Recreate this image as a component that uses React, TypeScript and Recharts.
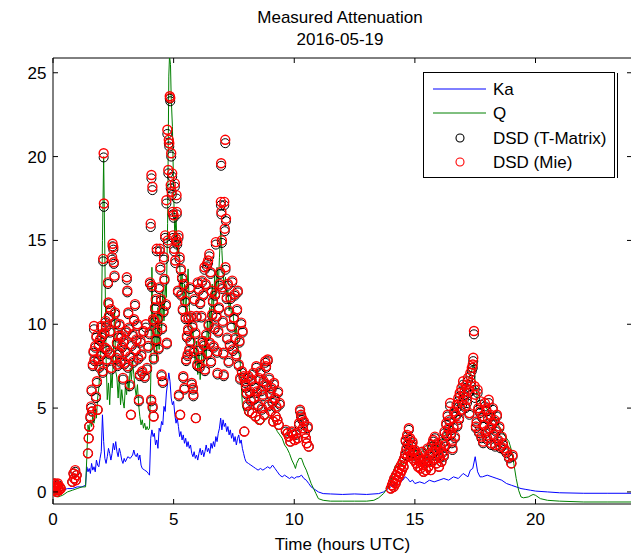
import React from "react";
import {
  ComposedChart,
  Line,
  Scatter,
  XAxis,
  YAxis,
  ReferenceLine,
} from "recharts";

// Ka band path attenuation (dB) vs hour
const kaHours = [
  0.0, 0.2, 0.4, 0.6, 0.8, 1.0, 1.2, 1.35, 1.4, 1.45,
  1.5, 1.55, 1.6, 1.65, 1.7, 1.75, 1.8, 1.85, 1.9, 1.95,
  2.0, 2.05, 2.1, 2.15, 2.2, 2.25, 2.3, 2.35, 2.4, 2.45,
  2.5, 2.55, 2.6, 2.65, 2.7, 2.75, 2.8, 2.85, 2.9, 2.95,
  3.0, 3.1, 3.2, 3.3, 3.35, 3.4, 3.45, 3.5, 3.55, 3.6,
  3.65, 3.7, 3.8, 3.9, 3.95, 4.0, 4.05, 4.1, 4.15, 4.2,
  4.25, 4.3, 4.35, 4.4, 4.45, 4.5, 4.55, 4.6, 4.65, 4.7,
  4.75, 4.8, 4.85, 4.9, 4.95, 5.0, 5.05, 5.1, 5.15, 5.2,
  5.25, 5.3, 5.35, 5.4, 5.45, 5.5, 5.55, 5.6, 5.65, 5.7,
  5.75, 5.8, 5.85, 5.9, 5.95, 6.0, 6.05, 6.1, 6.15, 6.2,
  6.25, 6.3, 6.35, 6.4, 6.45, 6.5, 6.55, 6.6, 6.65, 6.7,
  6.75, 6.8, 6.85, 6.9, 6.95, 7.0, 7.05, 7.1, 7.15, 7.2,
  7.25, 7.3, 7.35, 7.4, 7.45, 7.5, 7.55, 7.6, 7.65, 7.7,
  7.75, 7.8, 7.85, 7.9, 7.95, 8.0, 8.1, 8.2, 8.3, 8.4,
  8.5, 8.6, 8.7, 8.8, 8.9, 9.0, 9.1, 9.2, 9.3, 9.4,
  9.5, 9.6, 9.7, 9.8, 9.9, 10.0, 10.1, 10.2, 10.3, 10.4,
  10.5, 10.6, 10.7, 10.8, 10.9, 11.0, 11.2, 11.5, 12.0, 12.5,
  13.0, 13.5, 13.7, 13.9, 14.1, 14.3, 14.5, 14.6, 14.7, 14.8,
  14.9, 15.0, 15.2, 15.4, 15.6, 15.8, 16.0, 16.2, 16.4, 16.6,
  16.8, 17.0, 17.2, 17.3, 17.4, 17.5, 17.6, 17.7, 17.8, 18.0,
  18.2, 18.4, 18.6, 18.8, 19.0, 19.2, 19.4, 19.6, 19.8, 20.0,
  20.5, 21.0, 22.0, 23.0, 24.0,
];
const kaAtten = [
  0.1, 0.0, 0.1, 0.2, 0.2, 0.3, 0.3, 0.4, 1.5, 1.2,
  1.4, 1.1, 1.7, 1.3, 1.5, 1.2, 1.9, 1.6, 1.5, 2.0,
  2.4, 4.6, 3.0, 2.0, 1.7, 2.1, 2.6, 2.3, 1.9, 2.3,
  2.9, 2.5, 3.0, 2.4, 2.1, 2.6, 2.3, 1.9, 1.7, 2.0,
  1.8, 2.1, 2.0, 2.2, 2.5, 2.2, 2.1, 2.3, 1.9, 2.2,
  1.6, 1.4, 1.3, 1.2, 1.1, 1.0, 3.2, 3.7, 3.3, 3.5,
  2.8, 3.1, 2.6, 3.8, 3.6, 4.2, 4.0, 5.1, 4.8, 5.9,
  6.5, 7.1, 6.6, 5.6, 5.2, 5.4, 4.6, 4.1, 4.4, 3.9,
  3.3, 3.6, 3.1, 3.4, 2.9, 3.2, 2.7, 3.0, 2.6, 2.8,
  2.3, 2.1, 2.4, 2.0, 2.2, 1.9, 2.3, 2.6, 2.2, 2.5,
  2.1, 2.4, 2.8, 2.4, 2.6, 2.3, 2.9, 2.6, 3.0, 2.7,
  3.3, 3.0, 3.5, 3.8, 4.4, 3.7, 4.3, 3.9, 4.1, 3.6,
  3.9, 3.4, 3.7, 3.2, 3.5, 3.0, 3.3, 2.8, 3.2, 3.4,
  2.9, 3.1, 2.6, 2.3, 2.0, 1.8, 1.7, 1.6, 1.5, 1.4,
  1.3, 1.4, 1.3, 1.4, 1.5, 1.4, 1.6, 1.4, 1.2, 1.0,
  0.9, 1.0, 0.9, 0.8, 0.9, 0.8, 0.9, 0.9, 1.0, 0.8,
  0.7, 0.5, 0.3, 0.2, 0.1, 0.0, -0.1, -0.12, -0.15, -0.12,
  -0.15, -0.1, 0.0, 0.2, 0.4, 0.6, 0.7, 0.9, 0.8, 0.6,
  0.7, 0.5, 0.6, 0.5, 0.7, 0.6, 0.7, 0.8, 0.7, 0.9,
  0.8, 1.1, 0.9, 1.3, 1.4, 2.1, 1.2, 0.9, 0.9, 1.0,
  0.9, 0.8, 0.7, 0.5, 0.4, 0.3, 0.2, 0.15, 0.1, 0.05,
  0.0, -0.05, -0.08, -0.08, -0.08,
];

// Q band path attenuation (dB)
const qHours = [
  0.0, 0.1, 0.2, 0.4, 0.6, 0.8, 1.0, 1.2, 1.35, 1.4,
  1.45, 1.5, 1.55, 1.6, 1.65, 1.7, 1.75, 1.8, 1.85, 1.9,
  1.95, 2.0, 2.05, 2.1, 2.15, 2.2, 2.25, 2.3, 2.35, 2.4,
  2.45, 2.5, 2.55, 2.6, 2.65, 2.7, 2.75, 2.8, 2.85, 2.9,
  2.95, 3.0, 3.05, 3.1, 3.15, 3.2, 3.25, 3.3, 3.35, 3.4,
  3.45, 3.5, 3.55, 3.6, 3.65, 3.7, 3.75, 3.8, 3.85, 3.9,
  3.95, 4.0, 4.05, 4.1, 4.15, 4.2, 4.25, 4.3, 4.35, 4.4,
  4.45, 4.5, 4.55, 4.6, 4.65, 4.7, 4.75, 4.8, 4.83, 4.87,
  4.9, 4.95, 5.0, 5.05, 5.1, 5.15, 5.2, 5.25, 5.3, 5.35,
  5.4, 5.45, 5.5, 5.55, 5.6, 5.65, 5.7, 5.75, 5.8, 5.85,
  5.9, 5.95, 6.0, 6.05, 6.1, 6.15, 6.2, 6.25, 6.3, 6.35,
  6.4, 6.45, 6.5, 6.55, 6.6, 6.65, 6.7, 6.75, 6.8, 6.85,
  6.9, 6.95, 7.0, 7.05, 7.1, 7.15, 7.2, 7.25, 7.3, 7.35,
  7.4, 7.45, 7.5, 7.55, 7.6, 7.65, 7.7, 7.75, 7.8, 7.85,
  7.9, 8.0, 8.1, 8.2, 8.3, 8.4, 8.5, 8.6, 8.7, 8.8,
  8.9, 9.0, 9.1, 9.2, 9.3, 9.4, 9.5, 9.6, 9.7, 9.8,
  9.9, 10.0, 10.05, 10.1, 10.2, 10.3, 10.4, 10.5, 10.6, 10.7,
  10.8, 10.9, 11.0, 11.2, 11.5, 12.0, 12.5, 13.0, 13.3, 13.5,
  13.7, 13.9, 14.0, 14.1, 14.2, 14.3, 14.4, 14.5, 14.6, 14.7,
  14.8, 14.9, 15.0, 15.1, 15.2, 15.3, 15.4, 15.5, 15.6, 15.7,
  15.8, 15.9, 16.0, 16.1, 16.2, 16.3, 16.4, 16.5, 16.6, 16.7,
  16.8, 16.9, 17.0, 17.1, 17.2, 17.3, 17.4, 17.45, 17.5, 17.6,
  17.7, 17.8, 17.9, 18.0, 18.1, 18.2, 18.3, 18.4, 18.5, 18.6,
  18.7, 18.8, 18.9, 19.0, 19.1, 19.2, 19.3, 19.4, 19.5, 19.7,
  19.9, 20.0, 20.2, 20.5, 21.0, 22.0, 23.0, 24.0,
];
const qAtten = [
  0.0, -0.2, -0.3, -0.2, 0.0, 0.1, 0.2, 0.3, 0.3, 2.0,
  4.0, 3.6, 4.3, 3.9, 4.6, 4.1, 5.0, 4.4, 5.6, 6.2,
  7.5, 9.0, 15.0, 20.0, 14.0, 8.0, 5.5, 6.5, 5.2, 7.0,
  6.2, 8.0, 11.0, 7.2, 6.8, 5.6, 6.9, 5.2, 6.1, 5.4,
  5.0, 6.3, 5.8, 6.9, 6.0, 7.4, 6.7, 7.8, 7.0, 6.2,
  5.7, 6.4, 5.2, 4.5, 4.0, 4.3, 3.8, 4.1, 3.7, 3.9,
  3.7, 3.8, 6.5, 13.4, 9.0, 8.3, 10.4, 7.8, 11.0, 8.5,
  11.8, 9.6, 12.0, 10.2, 12.3, 11.6, 16.0, 24.8, 26.0, 25.5,
  23.5, 21.8, 18.0, 15.0, 16.5, 14.2, 15.0, 13.6, 12.0, 13.0,
  11.2, 12.4, 10.6, 12.0, 13.3, 11.0, 10.3, 9.2, 9.8, 8.4,
  7.6, 9.0, 7.0, 8.2, 6.7, 7.8, 8.8, 7.4, 9.3, 8.0,
  10.2, 9.0, 11.0, 9.6, 12.4, 10.8, 12.9, 11.5, 13.4, 12.2,
  14.0, 15.7, 14.4, 13.0, 12.2, 12.8, 11.6, 12.0, 10.8, 11.3,
  10.5, 10.9, 10.0, 9.4, 9.8, 8.9, 8.3, 8.0, 6.5, 5.2,
  4.9, 4.6, 4.5, 4.4, 4.3, 4.2, 4.1, 4.0, 4.1, 4.3,
  4.5, 4.4, 4.3, 3.9, 3.6, 3.4, 3.2, 2.8, 2.6, 2.3,
  1.9, 1.6, 1.4, 1.7, 2.0, 2.0, 1.6, 1.3, 0.9, 0.5,
  0.2, -0.1, -0.4, -0.5, -0.55, -0.55, -0.55, -0.55, -0.5, -0.35,
  -0.1, 0.3, 0.6, 1.2, 1.6, 1.5, 1.8, 1.6, 2.0, 1.8,
  2.2, 2.0, 2.5, 2.3, 2.2, 2.4, 2.6, 2.5, 2.8, 3.0,
  3.1, 2.8, 2.6, 3.0, 3.3, 3.5, 3.6, 3.9, 4.1, 4.4,
  5.0, 5.5, 5.9, 6.3, 6.6, 7.0, 7.4, 7.7, 6.5, 5.5,
  5.3, 5.0, 5.2, 4.9, 4.8, 4.6, 4.5, 4.2, 3.9, 3.7,
  3.4, 3.2, 3.0, 2.5, 1.7, 0.8, 0.1, -0.3, -0.35, -0.3,
  -0.15, -0.2, -0.4, -0.5, -0.55, -0.6, -0.6, -0.6,
];

// DSD-derived attenuation, same sample times for both scattering models
const dsdHours = [
  0.02, 0.05, 0.07, 0.10, 0.12, 0.15, 0.17, 0.20, 0.22, 0.25,
  0.28, 0.32, 0.80, 0.85, 0.88, 0.92, 0.95, 0.98,
  1.45, 1.48, 1.50, 1.55, 1.58, 1.60, 1.62, 1.65, 1.68, 1.70,
  1.72, 1.75, 1.78, 1.80, 1.82, 1.85, 1.88, 1.90, 1.92, 1.95,
  1.98, 2.00, 2.03, 2.06, 2.08, 2.10, 2.11, 2.13, 2.16, 2.18,
  2.20, 2.23, 2.25, 2.28, 2.30, 2.32, 2.35, 2.37, 2.40, 2.42,
  2.45, 2.47, 2.50, 2.52, 2.55, 2.57, 2.60, 2.62, 2.65, 2.68,
  2.70, 2.73, 2.76, 2.80, 2.83, 2.86, 2.90, 2.93, 2.96, 3.00,
  3.03, 3.06, 3.08, 3.10, 3.12, 3.15, 3.18, 3.20, 3.23, 3.26,
  3.30, 3.33, 3.36, 3.40, 3.43, 3.46, 3.50, 3.53, 3.56, 3.60,
  3.63, 3.66, 3.70, 3.75, 3.80, 3.85, 3.90, 3.95,
  4.00, 4.02, 4.05, 4.07, 4.08, 4.10, 4.12, 4.13, 4.15, 4.17,
  4.18, 4.20, 4.23, 4.26, 4.28, 4.30, 4.32, 4.35, 4.38, 4.40,
  4.43, 4.45, 4.48, 4.50, 4.52, 4.55, 4.58, 4.60, 4.62, 4.65,
  4.68, 4.70, 4.72, 4.74, 4.76, 4.78, 4.80, 4.82, 4.84, 4.86,
  4.88, 4.90, 4.92, 4.94, 4.96, 4.98, 5.00, 5.02, 5.05, 5.07,
  5.10, 5.12, 5.13, 5.15, 5.18, 5.20, 5.22, 5.25, 5.27, 5.30,
  5.32, 5.35, 5.38, 5.40, 5.42, 5.45, 5.48, 5.50, 5.52, 5.55,
  5.58, 5.60, 5.62, 5.65, 5.68, 5.70, 5.72, 5.75, 5.78, 5.80,
  5.82, 5.84, 5.86, 5.90, 5.92, 5.95, 5.98, 6.00, 6.03, 6.05,
  6.08, 6.10, 6.13, 6.15, 6.18, 6.20, 6.23, 6.25, 6.28, 6.30,
  6.33, 6.35, 6.38, 6.40, 6.43, 6.45, 6.48, 6.50, 6.53, 6.55,
  6.58, 6.60, 6.63, 6.66, 6.70, 6.72, 6.75, 6.78, 6.80, 6.82,
  6.85, 6.88, 6.90, 6.93, 6.96, 6.97, 6.98, 7.00, 7.02, 7.04,
  7.06, 7.08, 7.10, 7.12, 7.14, 7.15, 7.17, 7.20, 7.22, 7.25,
  7.28, 7.30, 7.33, 7.36, 7.40, 7.43, 7.46, 7.50, 7.53, 7.56,
  7.60, 7.63, 7.66, 7.70, 7.73, 7.76, 7.80, 7.83, 7.86, 7.90,
  7.93, 7.96,
  8.00, 8.03, 8.06, 8.10, 8.13, 8.16, 8.20, 8.23, 8.26, 8.30,
  8.33, 8.36, 8.40, 8.43, 8.46, 8.50, 8.53, 8.56, 8.60, 8.63,
  8.66, 8.70, 8.73, 8.76, 8.80, 8.83, 8.86, 8.90, 8.93, 8.96,
  9.00, 9.03, 9.06, 9.10, 9.13, 9.16, 9.20, 9.23, 9.26, 9.30,
  9.33, 9.36, 9.40,
  9.65, 9.72, 9.78, 9.84, 9.90, 9.96, 10.02, 10.08, 10.14, 10.20,
  10.24, 10.28, 10.32, 10.36, 10.40, 10.44, 10.48, 10.52, 10.56, 10.60,
  14.00, 14.05, 14.10, 14.12, 14.15, 14.20, 14.22, 14.25, 14.30, 14.33,
  14.36, 14.40, 14.43, 14.46, 14.50, 14.53, 14.56, 14.60, 14.62, 14.65,
  14.68, 14.70, 14.72, 14.75, 14.78, 14.80, 14.83, 14.86, 14.90, 14.93,
  14.96, 15.00, 15.03, 15.06, 15.10, 15.13, 15.16, 15.20, 15.23, 15.26,
  15.30, 15.33, 15.36, 15.40, 15.43, 15.46, 15.50, 15.53, 15.56, 15.60,
  15.63, 15.66, 15.70, 15.73, 15.76, 15.80, 15.83, 15.86, 15.90, 15.93,
  15.96, 16.00, 16.03, 16.06, 16.10, 16.13, 16.16, 16.20, 16.23, 16.26,
  16.30, 16.33, 16.36, 16.40, 16.43, 16.46, 16.50, 16.53, 16.56, 16.60,
  16.63, 16.66, 16.70, 16.73, 16.76, 16.80, 16.83, 16.86, 16.90, 16.93,
  16.96, 17.00, 17.03, 17.06, 17.10, 17.13, 17.16, 17.20, 17.23, 17.26,
  17.30, 17.33, 17.36, 17.40, 17.42, 17.45, 17.48, 17.50, 17.53, 17.56,
  17.60, 17.63, 17.66, 17.70, 17.73, 17.76, 17.80, 17.83, 17.86, 17.90,
  17.93, 17.96, 18.00, 18.03, 18.06, 18.10, 18.13, 18.16, 18.20, 18.23,
  18.26, 18.30, 18.33, 18.36, 18.40, 18.45, 18.50, 18.55, 18.60, 18.65,
  18.70, 18.80, 18.90, 19.00, 19.05,
];
const dsdMie = [
  0.3, 0.1, 0.5, 0.2, 0.4, 0.0, 0.3, 0.5, 0.2, 0.1,
  0.3, 0.2, 0.6, 1.1, 0.8, 1.3, 0.7, 1.0,
  2.3, 3.2, 3.9, 4.5, 5.1, 6.1, 4.8, 7.6, 8.4, 9.9,
  7.9, 8.7, 5.7, 9.3, 6.6, 4.9, 7.9, 8.8, 7.5, 9.1,
  8.2, 9.9, 9.3, 7.2, 13.9, 20.2, 17.2, 9.5, 8.6, 10.2,
  9.9, 7.9, 8.5, 12.5, 11.3, 10.5, 8.3, 9.6, 10.9, 7.4,
  14.0, 14.8, 14.6, 13.7, 12.9, 10.7, 10.1, 8.0, 8.9, 7.6,
  9.3, 8.3, 10.0, 7.8, 9.3, 8.7, 6.8, 9.0, 7.7, 8.4,
  9.6, 12.8, 12.0, 7.5, 10.7, 9.8, 6.4, 8.1, 4.6, 8.8,
  9.4, 7.8, 10.3, 11.2, 8.5, 9.1, 10.0, 8.0, 5.5, 7.0,
  9.0, 8.2, 7.2, 9.6, 6.9, 10.0, 7.4, 8.7,
  9.5, 12.5, 16.0, 5.5, 18.9, 12.3, 18.2, 5.1, 10.3, 4.5,
  8.0, 10.2, 11.0, 11.5, 9.1, 14.5, 9.6, 10.4, 8.6, 12.2,
  14.5, 13.4, 11.5, 7.0, 9.8, 6.6, 10.8, 14.0, 12.7, 15.3,
  11.2, 17.4, 8.9, 21.6, 15.0, 19.2, 21.0, 20.8, 23.6, 23.5,
  18.3, 20.2, 17.9, 19.0, 16.7, 15.3, 16.5, 14.5, 18.4, 13.8,
  15.1, 17.7, 16.7, 14.9, 12.0, 15.3, 5.8, 14.0, 4.6, 13.3,
  11.8, 12.8, 10.9, 6.9, 12.4, 6.2, 11.4, 10.4, 7.9, 9.3,
  8.2, 9.7, 10.4, 8.5, 12.2, 9.0, 10.5, 6.5, 9.9, 6.2,
  5.8, 8.4, 11.5, 9.5, 4.4, 10.5, 7.6, 12.5, 8.5, 12.1,
  7.5, 11.3, 8.1, 10.5, 12.6, 9.0, 11.8, 8.8, 13.4, 7.3,
  12.4, 9.4, 13.6, 8.3, 13.8, 10.0, 14.2, 8.9, 13.1, 7.8,
  12.0, 10.6, 11.4, 8.7, 9.8, 11.8, 14.9, 10.5, 8.4, 7.1,
  9.6, 11.0, 12.4, 13.1, 17.3, 19.6, 16.7, 15.0, 12.2, 10.2,
  8.3, 7.0, 17.3, 15.7, 21.0, 13.4, 16.3, 11.6, 9.2, 12.4,
  7.8, 10.8, 8.8, 11.6, 9.9, 12.6, 8.5, 10.4, 11.8, 9.2,
  8.2, 10.9, 12.0, 7.6, 9.0, 6.8, 10.1, 7.2, 9.6, 6.9,
  3.6, 6.6,
  6.3, 5.9, 5.2, 6.9, 4.8, 6.0, 5.5, 6.7, 4.7, 7.1,
  5.6, 6.3, 4.5, 7.5, 6.0, 5.2, 6.8, 4.3, 7.2, 6.1,
  5.0, 5.8, 6.6, 4.6, 7.8, 7.5, 6.4, 7.9, 5.2, 6.8,
  5.9, 4.8, 6.2, 5.4, 4.2, 6.5, 5.6, 4.5, 5.1, 4.3,
  6.0, 4.0, 5.3,
  3.7, 3.5, 3.3, 3.0, 3.6, 3.4, 3.1, 3.5, 3.2, 4.1,
  4.9, 4.6, 4.4, 3.8, 4.2, 3.5, 3.2, 2.9, 3.9, 2.7,
  0.2, 0.4, 0.6, 0.3, 0.8, 0.5, 1.0, 0.7, 1.2, 0.9,
  1.4, 1.1, 1.6, 1.3, 1.8, 1.5, 2.0, 2.3, 3.1, 2.6,
  3.4, 2.1, 2.9, 3.8, 2.5, 3.2, 2.2, 2.8, 3.0, 2.4,
  1.9, 2.5, 2.0, 1.7, 2.3, 1.5, 2.1, 1.8, 1.4, 1.9,
  2.4, 1.6, 1.2, 2.0, 1.7, 1.3, 1.9, 2.6, 1.5, 2.2,
  1.8, 1.3, 2.8, 2.4, 3.1, 2.0, 3.3, 2.6, 1.7, 2.9,
  2.3, 1.5, 2.1, 2.7, 1.8, 2.4, 3.0, 2.2, 3.6, 2.8,
  4.1, 3.4, 4.6, 3.8, 4.3, 5.3, 3.5, 3.0, 2.6, 3.9,
  4.8, 3.3, 4.6, 5.2, 4.0, 5.6, 4.4, 5.9, 4.9, 6.2,
  5.4, 6.6, 5.7, 6.0, 5.1, 6.4, 5.5, 6.8, 6.1, 4.7,
  7.1, 6.5, 7.4, 7.6, 8.0, 9.6, 6.3, 5.8, 3.9, 4.2,
  6.1, 5.0, 3.6, 4.8, 5.4, 3.3, 4.5, 3.0, 4.0, 5.3,
  3.6, 4.9, 3.2, 4.4, 5.5, 3.8, 4.6, 2.9, 4.1, 5.0,
  3.4, 4.3, 2.8, 3.7, 4.6, 3.1, 3.9, 2.7, 3.3, 2.9,
  2.6, 2.4, 2.1, 1.7, 2.2,
];
const dsdTMatrix = [
  0.3, 0.1, 0.5, 0.2, 0.4, 0.0, 0.3, 0.4, 0.2, 0.1,
  0.3, 0.2, 0.6, 1.1, 0.8, 1.2, 0.7, 1.0,
  2.3, 3.2, 3.9, 4.4, 5.0, 6.0, 4.8, 7.5, 8.3, 9.7,
  7.8, 8.6, 5.6, 9.2, 6.5, 4.9, 7.8, 8.7, 7.4, 9.0,
  8.1, 9.8, 9.2, 7.1, 13.75, 19.95, 17.0, 9.4, 8.5, 10.1,
  9.8, 7.8, 8.4, 12.4, 11.2, 10.4, 8.2, 9.5, 10.8, 7.3,
  13.85, 14.65, 14.45, 13.6, 12.8, 10.6, 10.0, 7.9, 8.8, 7.5,
  9.2, 8.2, 9.9, 7.7, 9.2, 8.6, 6.7, 8.9, 7.6, 8.3,
  9.5, 12.65, 11.9, 7.4, 10.6, 9.7, 6.3, 8.0, 4.6, 8.7,
  9.3, 7.7, 10.2, 11.1, 8.4, 9.0, 9.9, 7.9, 5.4, 6.9,
  8.9, 8.1, 7.1, 9.5, 6.8, 9.8, 7.3, 8.6,
  9.4, 12.4, 15.8, 5.4, 18.7, 12.2, 18.0, 5.0, 10.2, 4.5,
  7.9, 10.1, 10.9, 11.4, 9.0, 14.35, 9.5, 10.3, 8.5, 12.1,
  14.35, 13.25, 11.4, 6.9, 9.7, 6.5, 10.7, 13.85, 12.6, 15.15,
  11.1, 17.2, 8.8, 21.35, 14.85, 19.0, 20.8, 20.6, 23.45, 23.3,
  18.1, 20.0, 17.7, 18.8, 16.55, 15.15, 16.35, 14.35, 18.2, 13.65,
  14.95, 17.5, 16.55, 14.75, 11.9, 15.15, 5.7, 13.85, 4.6, 13.2,
  11.7, 12.7, 10.8, 6.8, 12.3, 6.1, 11.3, 10.3, 7.8, 9.2,
  8.1, 9.6, 10.3, 8.4, 12.1, 8.9, 10.4, 6.4, 9.8, 6.1,
  5.7, 8.3, 11.4, 9.4, 4.4, 10.4, 7.5, 12.4, 8.4, 12.0,
  7.4, 11.2, 8.0, 10.4, 12.5, 8.9, 11.7, 8.7, 13.25, 7.2,
  12.3, 9.3, 13.45, 8.2, 13.65, 9.9, 14.05, 8.8, 13.0, 7.7,
  11.9, 10.5, 11.3, 8.6, 9.7, 11.7, 14.75, 10.4, 8.3, 7.0,
  9.5, 10.9, 12.3, 13.0, 17.1, 19.45, 16.55, 14.85, 12.1, 10.1,
  8.2, 6.9, 17.1, 15.55, 20.8, 13.25, 16.15, 11.5, 9.1, 12.3,
  7.7, 10.7, 8.7, 11.5, 9.8, 12.5, 8.4, 10.3, 11.7, 9.1,
  8.1, 10.8, 11.9, 7.5, 8.9, 6.7, 10.0, 7.1, 9.5, 6.8,
  3.6, 6.5,
  6.2, 5.8, 5.1, 6.8, 4.8, 5.9, 5.4, 6.6, 4.7, 7.0,
  5.5, 6.2, 4.5, 7.4, 5.9, 5.1, 6.7, 4.3, 7.1, 6.0,
  4.9, 5.7, 6.5, 4.6, 7.7, 7.4, 6.3, 7.8, 5.1, 6.7,
  5.8, 4.8, 6.1, 5.3, 4.2, 6.4, 5.5, 4.5, 5.0, 4.3,
  5.9, 4.0, 5.2,
  3.6, 3.5, 3.3, 3.0, 3.5, 3.4, 3.1, 3.4, 3.2, 4.0,
  4.8, 4.5, 4.3, 3.8, 4.1, 3.5, 3.2, 2.9, 3.8, 2.7,
  0.2, 0.4, 0.6, 0.3, 0.8, 0.5, 1.0, 0.7, 1.2, 0.9,
  1.4, 1.1, 1.6, 1.3, 1.8, 1.5, 2.0, 2.2, 3.0, 2.5,
  3.3, 2.1, 2.8, 3.7, 2.4, 3.1, 2.2, 2.7, 2.9, 2.3,
  1.9, 2.4, 2.0, 1.7, 2.2, 1.5, 2.0, 1.8, 1.4, 1.9,
  2.3, 1.6, 1.2, 1.9, 1.7, 1.3, 1.8, 2.5, 1.5, 2.1,
  1.8, 1.3, 2.7, 2.3, 3.0, 1.9, 3.2, 2.5, 1.7, 2.8,
  2.2, 1.5, 2.0, 2.6, 1.8, 2.3, 2.9, 2.1, 3.5, 2.7,
  4.0, 3.3, 4.5, 3.7, 4.2, 5.1, 3.4, 2.9, 2.5, 3.8,
  4.7, 3.2, 4.5, 5.0, 3.9, 5.4, 4.3, 5.7, 4.8, 6.0,
  5.2, 6.4, 5.5, 5.8, 5.0, 6.2, 5.3, 6.6, 5.9, 4.6,
  6.9, 6.3, 7.2, 7.4, 7.8, 9.4, 6.1, 5.6, 3.8, 4.1,
  5.9, 4.9, 3.5, 4.7, 5.2, 3.2, 4.4, 2.9, 3.9, 5.1,
  3.5, 4.8, 3.1, 4.3, 5.3, 3.7, 4.5, 2.8, 4.0, 4.9,
  3.3, 4.2, 2.7, 3.6, 4.5, 3.0, 3.8, 2.6, 3.2, 2.8,
  2.5, 2.3, 2.0, 1.7, 2.1,
];

const xTicks = [0, 5, 10, 15, 20];
const yTicks = [0, 5, 10, 15, 20, 25];

const kaData = kaHours.map((t, i) => ({ t, v: kaAtten[i] }));
const qData = qHours.map((t, i) => ({ t, v: qAtten[i] }));
const tmData = dsdHours.map((t, i) => ({ t, v: dsdTMatrix[i] }));
const mieData = dsdHours.map((t, i) => ({ t, v: dsdMie[i] }));

const FONT = "'Liberation Sans', Arial, Helvetica, sans-serif";
const FS = 17;
const X_DOMAIN: [number, number] = [0, 24];
const Y_DOMAIN: [number, number] = [-0.72, 25.88];

// plot box (px) — matches the chart margins + axis sizes below
const MARGIN = { top: 58, right: 28, bottom: 22, left: 13 };
const CHART_W = 660;
const Y_AXIS_W = 40;
const PLOT_TOP = MARGIN.top;
const PLOT_RIGHT = CHART_W - MARGIN.right;
const TICK_LEN = 5;
const X_TICK_GAP = 9;
const Y_TICK_GAP = 6.5;

// MATLAB style: label outside, tick marks pointing inward (bottom + top)
const XTick = (props: any) => {
  const { x, y, payload } = props;
  const axisY = y - X_TICK_GAP;
  return (
    <g>
      <line x1={x} x2={x} y1={axisY} y2={axisY - TICK_LEN} stroke="#000" />
      <line x1={x} x2={x} y1={PLOT_TOP} y2={PLOT_TOP + TICK_LEN} stroke="#000" />
      <text
        x={x}
        y={y}
        dy="0.71em"
        textAnchor="middle"
        fill="#000"
        fontSize={FS}
        fontFamily={FONT}
      >
        {payload.value}
      </text>
    </g>
  );
};

// left + right inward ticks
const YTick = (props: any) => {
  const { x, y, payload } = props;
  const axisX = x + Y_TICK_GAP;
  return (
    <g>
      <line x1={axisX} x2={axisX + TICK_LEN} y1={y} y2={y} stroke="#000" />
      <line x1={PLOT_RIGHT - TICK_LEN} x2={PLOT_RIGHT} y1={y} y2={y} stroke="#000" />
      <text
        x={x}
        y={y}
        dy="0.355em"
        textAnchor="end"
        fill="#000"
        fontSize={FS}
        fontFamily={FONT}
      >
        {payload.value}
      </text>
    </g>
  );
};

const ringShape = (color: string, width: number) => (props: any) =>
  (
    <circle
      cx={props.cx}
      cy={props.cy}
      r={4.5}
      fill="none"
      stroke={color}
      strokeWidth={width}
    />
  );

const legendItems = [
  { name: "Ka", color: "#0000ff", kind: "line" },
  { name: "Q", color: "#008000", kind: "line" },
  { name: "DSD (T-Matrix)", color: "#000000", kind: "ring" },
  { name: "DSD (Mie)", color: "#ff0000", kind: "ring" },
];

const LegendBox = () => (
  <svg
    width={198}
    height={108}
    style={{ position: "absolute", left: 422, top: 71 }}
  >
    <rect x={1.5} y={1.5} width={191} height={105} fill="#fff" stroke="#000" />
    <line x1={195.5} x2={195.5} y1={2} y2={107} stroke="#000" />
    {legendItems.map((item, i) => {
      const cy = [18, 42, 67, 91][i];
      return (
        <g key={item.name}>
          {item.kind === "line" ? (
            <line x1={11} x2={64} y1={cy} y2={cy} stroke={item.color} />
          ) : (
            <circle cx={38} cy={cy} r={4} fill="none" stroke={item.color} strokeWidth={1.1} />
          )}
          <text
            x={71}
            y={cy}
            dy="0.36em"
            fontFamily={FONT}
            fontSize={FS}
            fill="#000"
          >
            {item.name}
          </text>
        </g>
      );
    })}
  </svg>
);

const App = () => {
  return (
    <div
      style={{
        position: "absolute",
        left: 0,
        top: 0,
        width: 631,
        height: 556,
        overflow: "hidden",
        background: "#fff",
        fontFamily: FONT,
      }}
    >
      <svg
        width={631}
        height={56}
        style={{ position: "absolute", left: 0, top: 0 }}
      >
        <text x={340} y={23} textAnchor="middle" fontFamily={FONT} fontSize={FS}>
          Measured Attenuation
        </text>
        <text x={340} y={45} textAnchor="middle" fontFamily={FONT} fontSize={FS}>
          2016-05-19
        </text>
      </svg>
      <ComposedChart
        width={CHART_W}
        height={556}
        margin={MARGIN}
        style={{ position: "absolute", left: 0, top: 0 }}
      >
        <XAxis
          xAxisId="x"
          dataKey="t"
          type="number"
          domain={X_DOMAIN}
          allowDataOverflow
          ticks={xTicks}
          height={30}
          tickLine={false}
          tickSize={0}
          tickMargin={X_TICK_GAP}
          axisLine={{ stroke: "#000" }}
          tick={<XTick />}
          label={{
            value: "Time (hours UTC)",
            position: "bottom",
            offset: 4,
            fill: "#000",
            fontSize: FS,
            fontFamily: FONT,
          }}
        />
        <YAxis
          yAxisId="y"
          type="number"
          domain={Y_DOMAIN}
          allowDataOverflow
          ticks={yTicks}
          width={Y_AXIS_W}
          tickLine={false}
          tickSize={0}
          tickMargin={Y_TICK_GAP}
          axisLine={{ stroke: "#000" }}
          tick={<YTick />}
        />
        <ReferenceLine
          xAxisId="x"
          yAxisId="y"
          y={Y_DOMAIN[1]}
          stroke="#000"
          ifOverflow="visible"
        />
        <ReferenceLine
          xAxisId="x"
          yAxisId="y"
          x={X_DOMAIN[1]}
          stroke="#000"
          ifOverflow="visible"
        />
        <Line
          xAxisId="x"
          yAxisId="y"
          data={kaData}
          dataKey="v"
          name="Ka"
          type="linear"
          stroke="#0000ff"
          strokeWidth={1}
          dot={false}
          activeDot={false}
          isAnimationActive={false}
        />
        <Line
          xAxisId="x"
          yAxisId="y"
          data={qData}
          dataKey="v"
          name="Q"
          type="linear"
          stroke="#008000"
          strokeWidth={1}
          dot={false}
          activeDot={false}
          isAnimationActive={false}
        />
        <Scatter
          xAxisId="x"
          yAxisId="y"
          data={tmData}
          dataKey="v"
          name="DSD (T-Matrix)"
          shape={ringShape("#000000", 1)}
          isAnimationActive={false}
        />
        <Scatter
          xAxisId="x"
          yAxisId="y"
          data={mieData}
          dataKey="v"
          name="DSD (Mie)"
          shape={ringShape("#ff0000", 1.4)}
          isAnimationActive={false}
        />
      </ComposedChart>
      <LegendBox />
    </div>
  );
};

export default App;
